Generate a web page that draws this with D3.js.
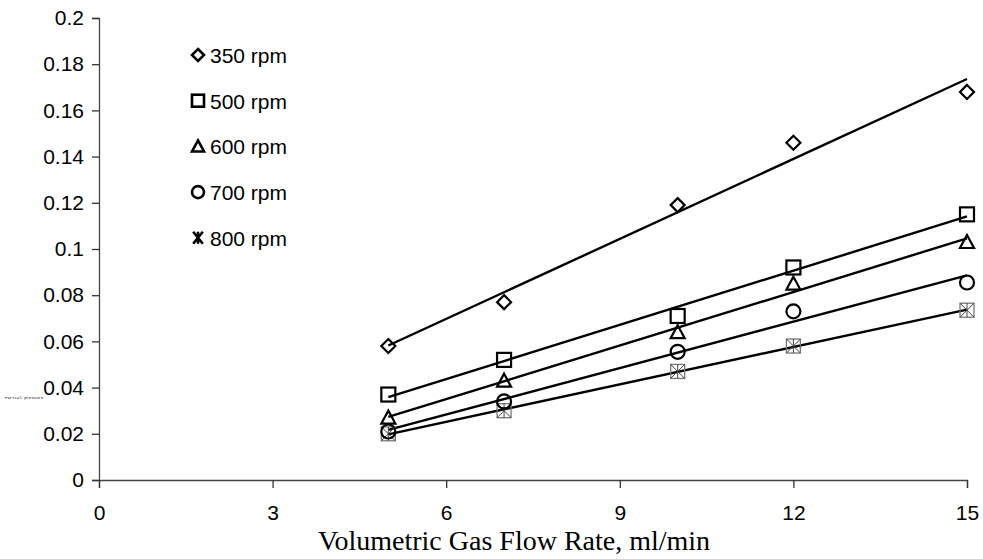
<!DOCTYPE html>
<html>
<head>
<meta charset="utf-8">
<script src="https://cdn.jsdelivr.net/npm/d3@7"></script>
<style>
  html, body { margin: 0; padding: 0; background: #fff; }
  svg { display: block; }
</style>
</head>
<body>
<svg id="chart" width="983" height="559"></svg>
<script>
// Gas flow rate (ml/min) at which each run was measured
const flowRates = [5, 7, 10, 12, 15];

// Measured values for each stirring speed
const series350 = [0.058, 0.077, 0.119, 0.146, 0.168];
const series500 = [0.037, 0.052, 0.071, 0.092, 0.115];
const series600 = [0.027, 0.043, 0.064, 0.085, 0.103];
const series700 = [0.021, 0.034, 0.0555, 0.073, 0.0855];
const series800 = [0.020, 0.030, 0.047, 0.058, 0.0735];

const seriesLabels = ["350 rpm", "500 rpm", "600 rpm", "700 rpm", "800 rpm"];
const seriesMarkers = ["diamond", "square", "triangle", "circle", "star"];

const xTicks = [0, 3, 6, 9, 12, 15];
const yTicks = [0, 0.02, 0.04, 0.06, 0.08, 0.1, 0.12, 0.14, 0.16, 0.18, 0.2];

const allSeries = [series350, series500, series600, series700, series800].map((vals, i) => ({
  label: seriesLabels[i],
  marker: seriesMarkers[i],
  points: flowRates.map((x, j) => ({ x, y: vals[j] }))
}));

const svg = d3.select("#chart");
const x = d3.scaleLinear().domain([0, 15]).range([99, 967]);
const y = d3.scaleLinear().domain([0, 0.2]).range([480, 18]);

const fmtY = d => d === 0 ? "0" : String(+d.toFixed(2));

// Y axis
const yAxis = svg.append("g")
  .attr("transform", `translate(${x(0)},0)`)
  .call(d3.axisLeft(y).tickValues(yTicks).tickFormat(fmtY).tickSizeOuter(0).tickSize(7).tickPadding(8));
// X axis
const xAxis = svg.append("g")
  .attr("transform", `translate(0,${y(0)})`)
  .call(d3.axisBottom(x).tickValues(xTicks).tickFormat(d3.format("d")).tickSizeOuter(0).tickSize(8).tickPadding(17));

[yAxis, xAxis].forEach(g => {
  g.select(".domain").attr("stroke", "#444").attr("stroke-width", 1.3);
  g.selectAll(".tick line").attr("stroke", "#333").attr("stroke-width", 1.3);
  g.selectAll(".tick text")
    .attr("font-family", "Liberation Sans, Arial, sans-serif")
    .attr("font-size", 21)
    .attr("fill", "#000");
});

// Least-squares trend line for each series
function fitLine(pts) {
  const mx = d3.mean(pts, p => p.x), my = d3.mean(pts, p => p.y);
  const sxy = d3.sum(pts, p => (p.x - mx) * (p.y - my));
  const sxx = d3.sum(pts, p => (p.x - mx) ** 2);
  const b = sxy / sxx, a = my - b * mx;
  const x0 = d3.min(pts, p => p.x), x1 = d3.max(pts, p => p.x);
  return [{ x: x0, y: a + b * x0 }, { x: x1, y: a + b * x1 }];
}

const line = d3.line().x(d => x(d.x)).y(d => y(d.y));

// Marker drawing
function drawMarker(g, type, cx, cy, s, inLegend) {
  const h = s / 2;
  const m = g.append("g").attr("transform", `translate(${cx},${cy})`);
  const st = { fill: "none", stroke: "#000", "stroke-width": inLegend ? 2.6 : 2.2 };
  const apply = sel => { Object.entries(st).forEach(([k, v]) => sel.attr(k, v)); return sel; };
  if (type === "diamond") {
    apply(m.append("path").attr("d", `M0,${-h} L${h},0 L0,${h} L${-h},0 Z`));
  } else if (type === "square") {
    apply(m.append("rect").attr("x", -h).attr("y", -h).attr("width", s).attr("height", s));
  } else if (type === "triangle") {
    apply(m.append("path").attr("d", `M0,${-h} L${h},${h * 0.85} L${-h},${h * 0.85} Z`));
  } else if (type === "circle") {
    apply(m.append("circle").attr("r", h));
  } else if (type === "star") {
    if (inLegend) {
      m.append("path")
        .attr("d", `M${-h * 0.8},${-h} L${h * 0.8},${h} M${h * 0.8},${-h} L${-h * 0.8},${h} M0,${-h} L0,${h}`)
        .attr("stroke", "#000").attr("stroke-width", 2.6).attr("fill", "none");
    } else {
      m.append("rect").attr("x", -h).attr("y", -h).attr("width", s).attr("height", s)
        .attr("fill", "none").attr("stroke", "#777").attr("stroke-width", 1.3);
      m.append("path")
        .attr("d", `M${-h},${-h} L${h},${h} M${h},${-h} L${-h},${h} M0,${-h} L0,${h}`)
        .attr("stroke", "#444").attr("stroke-width", 1).attr("fill", "none");
    }
  }
}

const plot = svg.append("g");
allSeries.forEach(s => {
  plot.append("path")
    .attr("d", line(fitLine(s.points)))
    .attr("fill", "none")
    .attr("stroke", "#000")
    .attr("stroke-width", 2.4);
});
// draw the star series first so the circles sit on top of it
allSeries.slice().reverse().forEach(s => {
  const mg = plot.append("g");
  s.points.forEach(p => drawMarker(mg, s.marker, x(p.x), y(p.y), 14, false));
});

// Legend
const legend = svg.append("g");
allSeries.forEach((s, i) => {
  const cy = 55 + i * 45.7;
  drawMarker(legend, s.marker, 198, cy, 12, true);
  legend.append("text")
    .attr("x", 210)
    .attr("y", cy + 8)
    .attr("font-family", "Liberation Sans, Arial, sans-serif")
    .attr("font-size", 21)
    .text(s.label);
});

// Axis titles
svg.append("text")
  .attr("x", 514)
  .attr("y", 550)
  .attr("text-anchor", "middle")
  .attr("font-family", "Liberation Serif, Times New Roman, serif")
  .attr("font-size", 28)
  .text("Volumetric Gas Flow Rate, ml/min");

svg.append("text")
  .attr("x", 5)
  .attr("y", 399)
  .attr("font-family", "Liberation Mono, Courier New, monospace")
  .attr("font-size", 4)
  .text("Partial pressure");
</script>
</body>
</html>
